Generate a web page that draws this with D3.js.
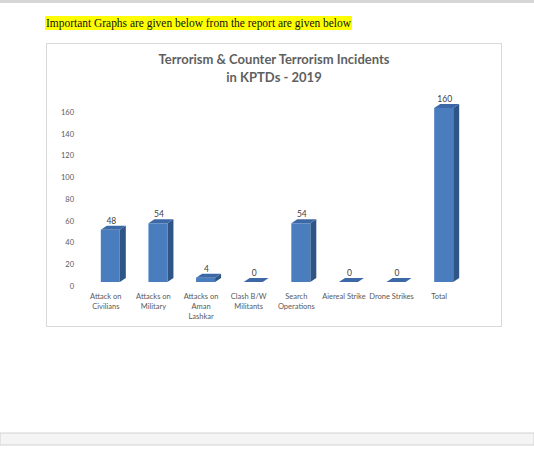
<!DOCTYPE html>
<html>
<head>
<meta charset="utf-8">
<script src="https://cdn.jsdelivr.net/npm/d3@7"></script>
<style>
  body { margin: 0; background: #fff; }
</style>
</head>
<body>
<div id="chart"></div>
<script>
var categories = [
    ["Attack on", "Civilians"],
    ["Attacks on", "Military"],
    ["Attacks on", "Aman", "Lashkar"],
    ["Clash B/W", "Militants"],
    ["Search", "Operations"],
    ["Aiereal Strike"],
    ["Drone Strikes"],
    ["Total"]
]
var values = [48, 54, 4, 0, 54, 0, 0, 160]
var yTicks = [0, 20, 40, 60, 80, 100, 120, 140, 160]

var width = 534,
    height = 462,
    depthX = 6,
    depthY = 4,
    barW = 19

var svg = d3.select("#chart")
    .append("svg")
    .attr("width", width)
    .attr("height", height)
    .style("font-family", "Lato, 'Open Sans', sans-serif")

// page chrome
svg.append("rect")
    .attr("x", 0).attr("y", 0)
    .attr("width", width).attr("height", 3)
    .attr("fill", "#d6d6d6")

svg.append("rect")
    .attr("x", 0).attr("y", 433)
    .attr("width", width).attr("height", 12)
    .attr("fill", "#f4f4f4")
    .attr("stroke", "#d2d2d2")
    .attr("stroke-width", 1)

// highlighted line of text
svg.append("rect")
    .attr("x", 45).attr("y", 16)
    .attr("width", 307).attr("height", 14)
    .attr("fill", "#ffff00")

svg.append("text")
    .text("Important Graphs are given below from the report are given below")
    .attr("x", 46)
    .attr("y", 27)
    .attr("font-family", "'Liberation Serif', 'Times New Roman', serif")
    .attr("font-size", 12.5)
    .attr("textLength", 305)
    .attr("lengthAdjust", "spacingAndGlyphs")
    .attr("fill", "#111")

// chart box
svg.append("rect")
    .attr("x", 46.5).attr("y", 43.5)
    .attr("width", 455).attr("height", 283)
    .attr("fill", "#fff")
    .attr("stroke", "#d9d9d9")

// title
var title = svg.append("text")
    .attr("text-anchor", "middle")
    .attr("font-size", 13)
    .attr("font-weight", "bold")
    .attr("fill", "#5f5f5f")
title.append("tspan").attr("x", 274).attr("y", 64).text("Terrorism & Counter Terrorism Incidents")
title.append("tspan").attr("x", 274).attr("y", 82).text("in KPTDs - 2019")

// scales
var x = d3.scaleBand()
    .domain(d3.range(categories.length))
    .range([82, 463])

var y = d3.scaleLinear()
    .domain([0, 160])
    .range([286, 112])

// y axis (labels only)
var yAxis = d3.axisLeft(y)
    .tickValues(yTicks)
    .tickSize(0)
    .tickPadding(0)

var gy = svg.append("g")
    .attr("transform", "translate(74,0)")
    .call(yAxis)
gy.select(".domain").remove()
gy.selectAll("text")
    .attr("font-size", 7.5)
    .attr("fill", "#595959")
    .attr("font-family", "Lato, 'Open Sans', sans-serif")

// x category labels
var cat = svg.append("g")
    .selectAll("text")
    .data(categories)
    .join("text")
    .attr("text-anchor", "middle")
    .attr("font-size", 7.5)
    .attr("fill", "#595959")
cat.each(function (lines, i) {
    var t = d3.select(this)
    lines.forEach(function (l, j) {
        t.append("tspan")
            .attr("x", x(i) + x.bandwidth() / 2)
            .attr("y", 298.5 + j * 10)
            .text(l)
    })
})

// 3d bars
var bars = svg.append("g")
    .selectAll("g")
    .data(values)
    .join("g")

function barLeft(i) { return x(i) + x.bandwidth() / 2 - 5 }
function barTop(v) { return y(v) - depthY }
var base = y(0) - depthY

// side face
bars.append("path")
    .attr("fill", "#2f5486")
    .attr("d", function (v, i) {
        var x1 = barLeft(i) + barW
        return "M" + x1 + "," + base +
            "L" + x1 + "," + barTop(v) +
            "L" + (x1 + depthX) + "," + (barTop(v) - depthY) +
            "L" + (x1 + depthX) + "," + (base - depthY) + "Z"
    })

// top face
bars.append("path")
    .attr("fill", "#3c69a6")
    .attr("d", function (v, i) {
        var x0 = barLeft(i)
        return "M" + x0 + "," + barTop(v) +
            "L" + (x0 + barW) + "," + barTop(v) +
            "L" + (x0 + barW + depthX) + "," + (barTop(v) - depthY) +
            "L" + (x0 + depthX) + "," + (barTop(v) - depthY) + "Z"
    })

// front face
bars.append("rect")
    .attr("fill", "#4a7dbd")
    .attr("x", function (v, i) { return barLeft(i) })
    .attr("y", function (v) { return barTop(v) })
    .attr("width", barW)
    .attr("height", function (v) { return base - barTop(v) })

// value labels
svg.append("g")
    .selectAll("text")
    .data(values)
    .join("text")
    .text(function (v) { return v })
    .attr("x", function (v, i) { return barLeft(i) + barW / 2 + 1 })
    .attr("y", function (v) { return barTop(v) - depthY - 2 })
    .attr("text-anchor", "middle")
    .attr("font-size", 8.5)
    .attr("fill", "#404040")
</script>
</body>
</html>
